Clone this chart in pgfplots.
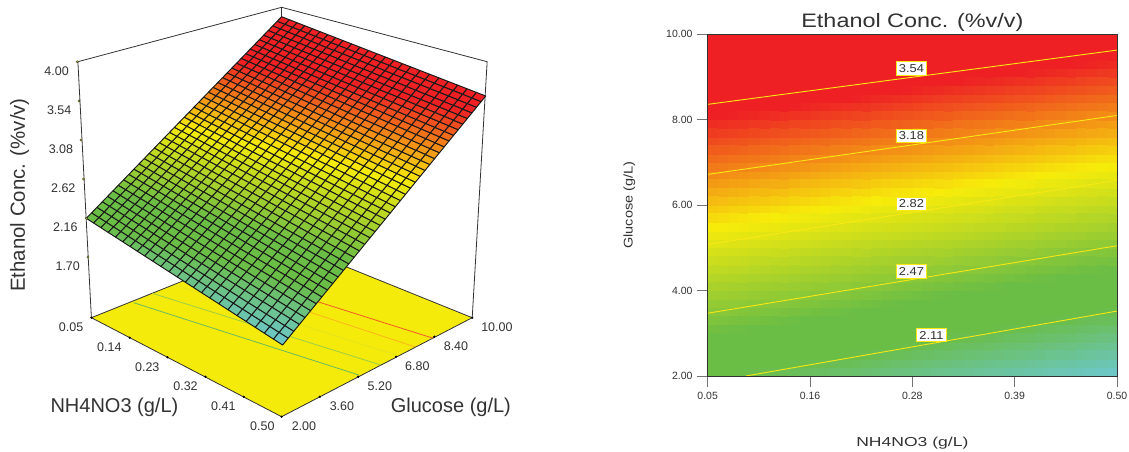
\documentclass[border=0pt]{standalone}
\usepackage{fontspec}
\setmainfont{Liberation Sans}
\usepackage{pgfplots}
\pgfplotsset{compat=1.18}
\usepgfplotslibrary{patchplots}
\newcommand\fs[1]{\fontsize{#1}{#1}\selectfont}
\definecolor{ink}{RGB}{50,50,50}
\definecolor{flooryellow}{RGB}{245,235,10}
\definecolor{conty}{RGB}{248,232,20}
\pgfplotsset{dxmap/.style={colormap={dx}{rgb255(0pt)=(108,200,208); rgb255(37pt)=(106,189,69); rgb255(58pt)=(106,189,69); rgb255(114pt)=(247,236,10); rgb255(171pt)=(238,32,36); rgb255(228pt)=(238,32,36)},point meta min=1.77,point meta max=4.05}}
\begin{document}
\begin{tikzpicture}
\useasboundingbox (0,0) rectangle (1129pt,451pt);
% ---------- left panel: response surface, drawn in picture coordinates ----------
\begin{axis}[at={(0pt,0pt)},anchor=south west,scale only axis,width=1146.5pt,height=451pt,
 xmin=0,xmax=1129,ymin=0,ymax=451,y dir=reverse,hide axis,clip=false,dxmap]
% box edges
\addplot[ink,line width=.8pt,forget plot] coordinates {(90,317.7) (76.7,61.7) (277.3,7.3) (479.7,61.7) (465,317.7)};
\addplot[ink,line width=.8pt,forget plot] coordinates {(277.3,7.3) (277.3,40)};
% floor
\addplot[fill=flooryellow,draw=ink,line width=.8pt,forget plot] coordinates {(90,317.7) (277.3,416.7) (465,317.7) (278,241) (90,317.7)};
% floor contours
\addplot[color={rgb,255:red,105;green,185;blue,95},line width=.8pt,forget plot] coordinates {(131.7,302.7) (353.3,375)};
\addplot[color={rgb,255:red,155;green,205;blue,70},line width=.8pt,forget plot] coordinates {(150,293.3) (375,365)};
\addplot[color={rgb,255:red,228;green,228;blue,30},line width=.8pt,forget plot] coordinates {(172,285) (390,355)};
\addplot[color={rgb,255:red,252;green,180;blue,30},line width=.8pt,forget plot] coordinates {(200,277) (408.3,346.7)};
\addplot[color={rgb,255:red,240;green,90;blue,40},line width=.8pt,forget plot] coordinates {(250,281.5) (426.7,338.3)};
% floor ticks
\addplot[only marks,mark=*,mark size=.9pt,black,forget plot] coordinates {(90,317.7) (127.7,337.7) (165,357.3) (202.3,376.7) (240,396.7) (277.3,416.7) (315,396.7) (352.7,376.7) (390,356.7) (427.7,336.7) (465,317.7)};
% surface: px py = picture position of the grid node at (N,G), Z = response
\addplot[patch,patch type=bilinear,patch refines=3,shader=faceted,faceted color=black!90,line width=.95pt,
 table/row sep=\\,
 patch table={0 1 5 4\\1 2 6 5\\2 3 7 6\\4 5 9 8\\5 6 10 9\\6 7 11 10\\8 9 13 12\\9 10 14 13\\10 11 15 14\\12 13 17 16\\13 14 18 17\\14 15 19 18\\16 17 21 20\\17 18 22 21\\18 19 23 22\\},
 point meta=\thisrow{Z},forget plot] table[x=px,y=py] {
N G Z px py\\
0.05 2.0 2.15 85.00 218.30\\
0.20 2.0 2.02 142.46 255.96\\
0.35 2.0 1.90 206.51 297.94\\
0.50 2.0 1.77 278.30 345.00\\
0.05 3.6 2.50 126.91 174.36\\
0.20 3.6 2.38 185.23 208.81\\
0.35 3.6 2.26 250.05 247.12\\
0.50 3.6 2.14 322.52 289.94\\
0.05 5.2 2.85 166.98 132.35\\
0.20 5.2 2.74 226.02 163.85\\
0.35 5.2 2.62 291.49 198.78\\
0.50 5.2 2.51 364.48 237.72\\
0.05 6.8 3.21 205.33 92.15\\
0.20 6.8 3.09 264.97 120.91\\
0.35 6.8 2.98 330.95 152.73\\
0.50 6.8 2.87 404.32 188.11\\
0.05 8.4 3.56 242.08 53.64\\
0.20 8.4 3.45 302.21 79.86\\
0.35 8.4 3.35 368.60 108.82\\
0.50 8.4 3.24 442.22 140.93\\
0.05 10.0 3.91 277.30 16.70\\
0.20 10.0 3.81 337.84 40.58\\
0.35 10.0 3.71 404.52 66.89\\
0.50 10.0 3.61 478.30 96.00\\
};
% z ticks
\addplot[only marks,mark=*,mark size=1.1pt,draw=ink,fill=yellow,forget plot] coordinates {(76,61.7) (77.7,101) (79.7,140) (82.3,179) (85,218.3) (86.7,257.3)};
\begin{scope}[every node/.style={text=ink,inner sep=0pt}]
\node[font=\fs{12.5}] at (55.7,70.7) {4.00};
\node[font=\fs{12.5}] at (58.3,110) {3.54};
\node[font=\fs{12.5}] at (60,148.7) {3.08};
\node[font=\fs{12.5}] at (62.3,187.7) {2.62};
\node[font=\fs{12.5}] at (64.3,226.7) {2.16};
\node[font=\fs{12.5}] at (66.7,265.7) {1.70};
\node[font=\fs{12.5}] at (70,326.7) {0.05};
\node[font=\fs{12.5}] at (107.7,346.7) {0.14};
\node[font=\fs{12.5}] at (145,366.7) {0.23};
\node[font=\fs{12.5}] at (182.7,385.7) {0.32};
\node[font=\fs{12.5}] at (220,405.7) {0.41};
\node[font=\fs{12.5}] at (258.3,425.7) {0.50};
\node[font=\fs{12.5}] at (299.3,425.7) {2.00};
\node[font=\fs{12.5}] at (336.7,405.7) {3.60};
\node[font=\fs{12.5}] at (374,385.7) {5.20};
\node[font=\fs{12.5}] at (411,365.7) {6.80};
\node[font=\fs{12.5}] at (449,345.7) {8.40};
\node[font=\fs{12.5}] at (489.3,326.7) {10.00};
\node[font=\fs{20}] at (112.7,407.3) {NH4NO3 (g/L)};
\node[font=\fs{20}] at (444,407.3) {Glucose (g/L)};
\node[font=\fs{20.4},rotate=90] at (19.3,195) {Ethanol Conc. (\%v/v)};
\end{scope}
\end{axis}
% ---------- right panel: contour map ----------
\begin{axis}[at={(707.7pt,75pt)},anchor=south west,scale only axis,width=409.3pt,height=341.7pt,
 xmin=0.05,xmax=0.5,ymin=2,ymax=10,dxmap,
 xtick={0.05,0.1625,0.275,0.3875,0.5},xticklabels={0.05,0.16,0.28,0.39,0.50},
 ytick={2,4,6,8,10},yticklabels={2.00,4.00,6.00,8.00,10.00},
 /pgf/number format/assume math mode=true,
 tick label style={font=\fs{10.5},text=ink,inner sep=0pt},
 tick align=outside,tick pos=left,major tick length=11pt,
 tick style={color=black!55,line width=.9pt},
 axis line style={ink,line width=.9pt},
 xticklabel style={yshift=-5pt},yticklabel style={xshift=-4pt},
 every axis title shift=0pt,
 title={\scalebox{1.2}[1]{Ethanol Conc. (\%v/v)}},
 title style={font=\fs{19.5},text=ink,at={(axis description cs:0.5,1.036)},anchor=center,inner sep=0pt},
 xlabel={\scalebox{1.35}[1]{NH4NO3 (g/L)}},
 xlabel style={font=\fs{13},text=ink,at={(axis description cs:0.5,-0.195)},anchor=center,inner sep=0pt},
 ylabel={\scalebox{1.15}[1]{Glucose (g/L)}},
 ylabel style={font=\fs{12.6},text=ink,at={(axis description cs:-0.1915,0.5)},anchor=center,inner sep=0pt},
 axis on top]
\addplot[patch,patch type=bilinear,patch refines=3,shader=flat,
 table/row sep=\\,
 patch table={0 1 7 6\\1 2 8 7\\2 3 9 8\\3 4 10 9\\4 5 11 10\\6 7 13 12\\7 8 14 13\\8 9 15 14\\9 10 16 15\\10 11 17 16\\12 13 19 18\\13 14 20 19\\14 15 21 20\\15 16 22 21\\16 17 23 22\\18 19 25 24\\19 20 26 25\\20 21 27 26\\21 22 28 27\\22 23 29 28\\24 25 31 30\\25 26 32 31\\26 27 33 32\\27 28 34 33\\28 29 35 34\\},
 point meta=\thisrow{Z},forget plot] table[x=N,y=G] {
N G Z\\
0.05 2.0 2.15\\
0.14 2.0 2.07\\
0.23 2.0 2.00\\
0.32 2.0 1.92\\
0.41 2.0 1.85\\
0.50 2.0 1.77\\
0.05 3.6 2.50\\
0.14 3.6 2.43\\
0.23 3.6 2.36\\
0.32 3.6 2.28\\
0.41 3.6 2.21\\
0.50 3.6 2.14\\
0.05 5.2 2.85\\
0.14 5.2 2.78\\
0.23 5.2 2.71\\
0.32 5.2 2.65\\
0.41 5.2 2.58\\
0.50 5.2 2.51\\
0.05 6.8 3.21\\
0.14 6.8 3.14\\
0.23 6.8 3.07\\
0.32 6.8 3.01\\
0.41 6.8 2.94\\
0.50 6.8 2.87\\
0.05 8.4 3.56\\
0.14 8.4 3.50\\
0.23 8.4 3.44\\
0.32 8.4 3.37\\
0.41 8.4 3.31\\
0.50 8.4 3.24\\
0.05 10.0 3.91\\
0.14 10.0 3.85\\
0.23 10.0 3.79\\
0.32 10.0 3.73\\
0.41 10.0 3.67\\
0.50 10.0 3.61\\
};
\addplot[conty,line width=.9pt,forget plot] coordinates {(0.05,8.36) (0.5,9.63)};
\addplot[conty,line width=.9pt,forget plot] coordinates {(0.05,6.72) (0.5,8.10)};
\addplot[conty,line width=.9pt,forget plot] coordinates {(0.05,5.08) (0.5,6.58)};
\addplot[conty,line width=.9pt,forget plot] coordinates {(0.05,3.47) (0.5,5.05)};
\addplot[conty,line width=.9pt,forget plot] coordinates {(0.092,2) (0.5,3.52)};
\begin{scope}[every node/.style={fill=white,draw=conty,line width=.9pt,minimum width=30pt,minimum height=13.5pt,inner sep=0pt,text=ink,font=\fs{11.5}}]
\node at (0.274,9.2) {\scalebox{1.12}[1]{3.54}};
\node at (0.274,7.62) {\scalebox{1.12}[1]{3.18}};
\node at (0.274,6.03) {\scalebox{1.12}[1]{2.82}};
\node at (0.274,4.45) {\scalebox{1.12}[1]{2.47}};
\node at (0.296,2.96) {\scalebox{1.12}[1]{2.11}};
\end{scope}
\end{axis}
\end{tikzpicture}
\end{document}
